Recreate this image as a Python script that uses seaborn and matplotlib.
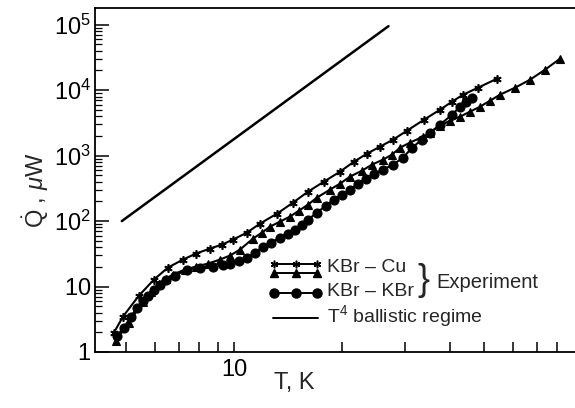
import numpy as np
import matplotlib
matplotlib.use("Agg")
import matplotlib.pyplot as plt
import seaborn as sns
from matplotlib.ticker import FixedLocator, FixedFormatter, NullFormatter, LogLocator

# Heat flow through the contacts, T in K, Q in microwatts
cu_T = [4.622, 4.897, 5.428, 5.977, 6.540, 7.203, 7.833, 8.570, 9.258, 9.936,
        10.87, 11.82, 13.19, 14.62, 16.10, 17.84, 19.78, 21.64, 23.52, 25.57,
        27.81, 30.43, 33.95, 37.62, 40.64, 43.63, 48.04, 54.28]
cu_Q = [1.985, 3.483, 7.29, 12.79, 19.50, 25.84, 31.90, 38.03, 43.78, 52.20,
        66.74, 91.57, 130.2, 191.6, 282.1, 401.0, 569.8, 809.8, 1073, 1372,
        1755, 2408, 3545, 5038, 6674, 8538, 10920, 14985]

tri_T = [4.682, 5.090, 5.569, 5.864, 6.173, 6.458, 6.754, 7.298, 7.833, 8.460,
         9.139, 9.746, 10.39, 11.30, 11.97, 12.61, 13.45, 14.33, 15.19, 16.10,
         17.05, 18.54, 19.78, 21.09, 22.78, 24.29, 26.07, 27.63, 29.09, 31.01,
         33.73, 35.28, 37.62, 40.12, 42.80, 45.62, 48.67, 51.89, 55.34, 60.95,
         67.12, 73.90, 81.39]
tri_Q = [1.498, 2.821, 5.902, 8.388, 11.11, 13.25, 15.25, 18.17, 20.20, 22.44,
         25.84, 29.74, 36.72, 54.06, 66.74, 82.41, 98.26, 117.1, 144.6, 178.6,
         228.5, 302.7, 373.7, 477.9, 590.2, 728.9, 868.8, 1036, 1325, 1579,
         1950, 2244, 2871, 3423, 3940, 4697, 5599, 6914, 8538, 10920,
         14460, 20560, 30260]

kbr_T = [4.712, 4.929, 5.156, 5.359, 5.569, 5.752, 5.977, 6.213, 6.458, 6.842,
         7.390, 8.035, 8.737, 9.317, 9.746, 10.33, 10.87, 11.45, 12.05, 12.69,
         13.45, 14.15, 14.81, 15.48, 16.10, 17.05, 18.07, 19.02, 20.03, 21.09,
         22.20, 23.37, 24.61, 26.07, 27.81, 29.66, 31.42, 33.51, 35.28, 37.62,
         40.64, 42.80, 44.46, 46.22]
kbr_Q = [1.786, 2.366, 3.483, 4.779, 6.113, 7.29, 9.00, 10.73, 12.79, 14.72,
         18.17, 19.50, 20.20, 21.67, 22.44, 24.95, 27.71, 33.04, 40.79, 46.96,
         56.01, 64.46, 74.18, 88.44, 105.4, 134.8, 172.4, 212.9, 253.9, 302.7,
         373.7, 445.6, 531.3, 611.4, 728.9, 932.3, 1325, 1755, 2244, 2974,
         4227, 5599, 6674, 7680]

# T^4 ballistic-regime reference line (end points)
t4_T = [4.86, 27.0]
t4_Q = [100, 9.5e4]

y_ticks = [1, 10, 1e2, 1e3, 1e4, 1e5]
y_labels = [r"$\mathrm{1}\ \,$", r"$\mathrm{10}\ \,$", r"$\mathrm{10^{2}}$",
            r"$\mathrm{10^{3}}$", r"$\mathrm{10^{4}}$", r"$\mathrm{10^{5}}$"]
x_ticks = [10]
x_labels = ["10"]
x_minor = [5, 6, 7, 8, 9, 20, 30, 40, 50, 60, 70, 80]

sns.set_style("white")
plt.rcParams["font.family"] = ["Liberation Sans", "DejaVu Sans"]
plt.rcParams["mathtext.fontset"] = "custom"
plt.rcParams["mathtext.rm"] = "Liberation Sans"
plt.rcParams["mathtext.it"] = "Liberation Sans:italic"
plt.rcParams["mathtext.bf"] = "Liberation Sans:bold"

fig = plt.figure(figsize=(5.75, 4.08), dpi=100)
ax = fig.add_axes([95 / 575, 56 / 408, 480 / 575, 344 / 408])

star = (6, 2, 0)
sns.lineplot(x=cu_T, y=cu_Q, ax=ax, color="black", lw=1.5, marker=star,
             markersize=6, markeredgewidth=1.2, markeredgecolor="black",
             estimator=None, sort=False)
sns.lineplot(x=tri_T, y=tri_Q, ax=ax, color="black", lw=1.5, marker="^",
             markersize=5.5, markeredgewidth=0.8, markeredgecolor="black",
             markerfacecolor="black", estimator=None, sort=False)
sns.lineplot(x=kbr_T, y=kbr_Q, ax=ax, color="black", lw=1.5, marker="o",
             markersize=6.5, markeredgewidth=0.8, markeredgecolor="black",
             markerfacecolor="black", estimator=None, sort=False)
sns.lineplot(x=t4_T, y=t4_Q, ax=ax, color="black", lw=1.8,
             estimator=None, sort=False)

ax.set_xscale("log")
ax.set_yscale("log")
ax.set_xlim(4.09, 89.6)
ax.set_ylim(1, 1.8e5)

ax.xaxis.set_major_locator(FixedLocator(x_ticks))
ax.xaxis.set_major_formatter(FixedFormatter(x_labels))
ax.xaxis.set_minor_locator(FixedLocator(x_minor))
ax.xaxis.set_minor_formatter(NullFormatter())
ax.yaxis.set_major_locator(FixedLocator(y_ticks))
ax.yaxis.set_major_formatter(FixedFormatter(y_labels))
ax.yaxis.set_minor_locator(LogLocator(base=10, subs=np.arange(2, 10), numticks=30))
ax.yaxis.set_minor_formatter(NullFormatter())

ax.tick_params(which="both", direction="in", left=True, bottom=True,
               top=False, right=False, colors="black")
ax.tick_params(axis="y", which="major", length=10, width=1.1, labelsize=17, pad=3)
ax.tick_params(axis="y", which="minor", length=5, width=0.9)
ax.tick_params(axis="x", which="both", length=7, width=1.1, labelsize=17, pad=5)
for side in ["left", "bottom", "top"]:
    ax.spines[side].set_color("black")
    ax.spines[side].set_linewidth(1.3)
ax.spines["right"].set_visible(False)
ax.set_xlabel("")
ax.set_ylabel("")

fig.text(294 / 575, 1 - 383 / 408, "T, K", fontsize=17, ha="center", va="center")
fig.text(36 / 575, 1 - 190 / 408, r"$\dot{\mathrm{Q}}$ , $\mu$W", fontsize=17,
         rotation=90, ha="center", va="center")

# Hand-built key: three experimental rows bracketed as one group
lax = fig.add_axes([0, 0, 1, 1], zorder=3)
lax.set_xlim(0, 575)
lax.set_ylim(408, 0)
lax.axis("off")
lax.patch.set_alpha(0)
kx = [274, 296, 317]
lax.plot(kx, [264] * 3, color="black", lw=1.4, marker=star, markersize=5.5,
         markeredgewidth=1.1)
lax.plot(kx, [273] * 3, color="black", lw=1.4, marker="^", markersize=5.5)
lax.plot(kx, [293] * 3, color="black", lw=1.4, marker="o", markersize=6.5)
lax.plot([273, 318], [318, 318], color="black", lw=1.4)
lax.text(327, 268, "KBr \u2013 Cu", fontsize=14, va="center", ha="left")
lax.text(327, 291, "KBr \u2013 KBr", fontsize=14, va="center", ha="left")
lax.text(423, 280, "}", fontsize=26, va="center", ha="center")
lax.text(436, 282, "Experiment", fontsize=14.5, va="center", ha="left")
lax.text(327, 316, r"T$^{4}$ ballistic regime", fontsize=14, va="center", ha="left")

fig.savefig("out.png", dpi=100, facecolor="white")
